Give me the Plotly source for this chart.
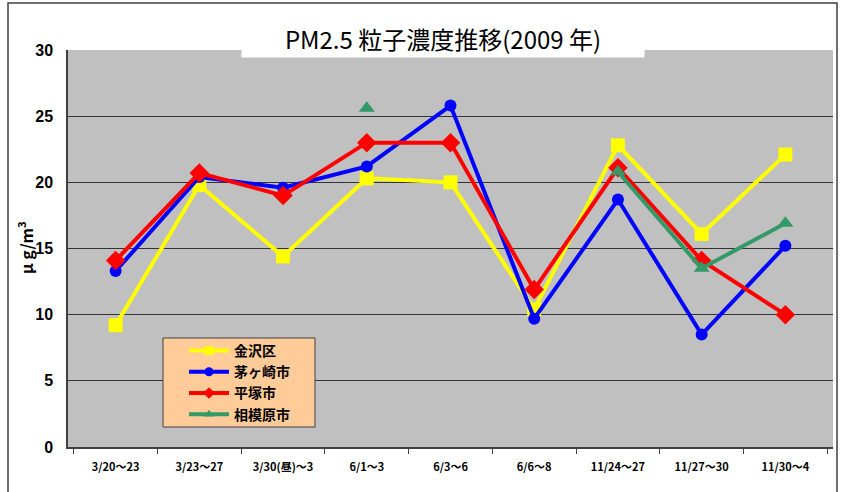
import plotly.graph_objects as go

categories = ["3/20～23", "3/23～27", "3/30(昼)～3", "6/1～3", "6/3～6",
              "6/6～8", "11/24～27", "11/27～30", "11/30～4"]
kanazawa = [9.2, 19.8, 14.4, 20.3, 20.0, 10.4, 22.8, 16.1, 22.1]
chigasaki = [13.3, 20.4, 19.6, 21.2, 25.8, 9.7, 18.7, 8.5, 15.2]
hiratsuka = [14.1, 20.7, 19.0, 23.0, 23.0, 11.9, 21.1, 14.1, 10.0]
sagamihara = [None, None, None, 25.6, None, None, 20.8, 13.5, 16.9]
y_ticks = [0, 5, 10, 15, 20, 25, 30]

JP = "Noto Sans CJK JP"

series = [
    ("金沢区", kanazawa, "#FFFF00", "square", 14),
    ("茅ヶ崎市", chigasaki, "#0000FF", "circle", 12),
    ("平塚市", hiratsuka, "#FF0000", "diamond", 15),
    ("相模原市", sagamihara, "#339966", "triangle-up", 14),
]

fig = go.Figure()
for name, vals, color, sym, size in series:
    fig.add_trace(go.Scatter(
        x=categories, y=vals, name=name, mode="lines+markers",
        line=dict(color=color, width=4),
        marker=dict(symbol=sym, size=size, color=color),
        connectgaps=False, showlegend=False, legendgroup=name,
    ))
# legend entries with the smaller symbols used in the reference legend
for name, vals, color, sym, size in series:
    fig.add_trace(go.Scatter(
        x=[None], y=[None], name=name, mode="lines+markers",
        line=dict(color=color, width=4),
        marker=dict(symbol=sym, size=9, color=color),
        showlegend=True, legendgroup=name,
    ))

L, R, T, B = 68, 9, 50, 45
W, H = 842, 492
pw, ph = W - L - R, H - T - B

def px(x):
    return (x - L) / pw

def py(y):
    return (H - B - y) / ph

fig.update_layout(
    width=W, height=H,
    margin=dict(l=L, r=R, t=T, b=B, autoexpand=False),
    paper_bgcolor="white",
    plot_bgcolor="#C0C0C0",
    showlegend=True,
    legend=dict(
        x=px(184), y=py(335), xanchor="left", yanchor="top",
        bgcolor="rgba(0,0,0,0)", borderwidth=0,
        font=dict(family=JP, size=14, color="black", weight="bold"),
        itemwidth=40, tracegroupgap=0,
        traceorder="normal",
    ),
    font=dict(family=JP, color="black"),
)

fig.update_xaxes(
    type="category", categoryorder="array", categoryarray=categories,
    showgrid=False, showline=True, linecolor="#404040", linewidth=1.5,
    ticks="outside", tickson="boundaries", ticklen=5, tickcolor="#404040",
    tickfont=dict(family=JP, size=11, color="black", weight="bold"),
    ticklabelstandoff=9, zeroline=False, automargin=False,
)
fig.update_yaxes(
    range=[0, 30], tickvals=y_ticks, showgrid=True, gridcolor="#333333",
    gridwidth=1, showline=True, linecolor="#404040", linewidth=1.5,
    ticks="", zeroline=False, automargin=False,
    tickfont=dict(family="Liberation Sans", size=16, color="black", weight="bold"),
    ticklabelstandoff=10,
)

# legend box
fig.add_shape(
    type="rect", xref="paper", yref="paper",
    x0=px(163), x1=px(315), y0=py(427), y1=py(338),
    line=dict(color="#404040", width=1), fillcolor="#FFCC99",
    layer="above",
)
# title box
fig.add_annotation(
    x=px(443), y=py(38), xref="paper", yref="paper",
    text="PM2.5 粒子濃度推移(2009 年)", showarrow=False,
    font=dict(family=JP, size=24, color="black"),
    bgcolor="white", width=400, height=36,
    xanchor="center", yanchor="middle",
)
# y-axis title
fig.add_annotation(
    x=px(26), y=py(248), xref="paper", yref="paper",
    text="μ g/m<sup>3</sup>", showarrow=False, textangle=-90,
    font=dict(family=JP, size=16, color="black", weight="bold"),
    xanchor="center", yanchor="middle",
)
# outer border
fig.add_shape(
    type="rect", xref="paper", yref="paper",
    x0=px(8), x1=px(837), y0=py(520), y1=py(3),
    line=dict(color="#404040", width=1.5), fillcolor="rgba(0,0,0,0)",
    layer="above",
)

fig.write_html(
    "out.html",
    config={"displayModeBar": False},
    post_script="document.body.style.margin='0';document.body.style.overflow='hidden';",
)
